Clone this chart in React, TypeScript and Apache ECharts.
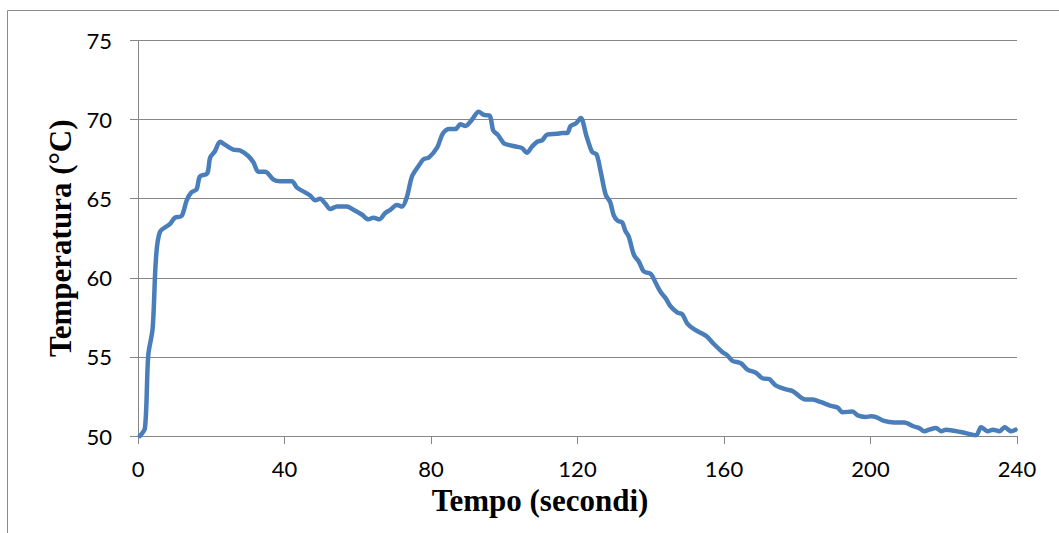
import React, { useEffect, useRef } from "react";
import * as echarts from "echarts";

const timeValues: number[] = [
  0.5, 1.9, 2.8, 4.0, 4.9, 6.0, 8.7, 10.1, 11.9, 13.3, 14.6, 16.0, 16.9, 18.9, 19.7, 21.0, 22.4, 23.8, 26.0, 27.9,
  30.1, 31.5, 32.9, 34.7, 37.0, 38.8, 42.0, 43.4, 45.6, 47.0, 48.4, 49.7, 51.1, 52.5, 54.3, 57.0, 58.8, 61.1, 62.9, 64.3,
  65.9, 67.5, 68.9, 70.7, 72.1, 73.4, 74.8, 76.4, 78.0, 79.4, 81.7, 83.2, 85.0, 86.7, 88.0, 89.4, 91.2, 93.0, 94.4, 96.0,
  97.0, 98.2, 99.9, 101.2, 103.1, 104.9, 106.1, 107.6, 109.0, 110.4, 111.7, 114.4, 115.8, 117.2, 118.1, 119.5, 120.9, 122.4, 124.0, 125.2,
  126.3, 127.7, 128.9, 129.9, 131.0, 132.2, 133.1, 134.0, 135.4, 136.8, 138.1, 140.0, 141.3, 142.7, 144.1, 145.4, 147.3, 148.6, 150.0, 151.8,
  154.6, 155.5, 157.3, 159.6, 160.9, 162.3, 164.6, 166.4, 168.7, 170.5, 172.3, 174.1, 176.9, 178.7, 182.3, 184.2, 186.4, 189.2, 191.0, 192.4,
  195.1, 196.5, 198.7, 200.1, 201.5, 203.7, 206.5, 209.2, 211.9, 213.3, 214.7, 216.0, 217.9, 219.3, 220.6, 224.7, 228.8, 230.2, 232.0, 233.4,
  235.2, 236.6, 238.4, 239.6,
];

const temperatureValues: number[] = [
  50.0, 50.5, 55.1, 56.8, 61.2, 62.9, 63.4, 63.8, 63.9, 64.9, 65.4, 65.6, 66.4, 66.6, 67.6, 68.0, 68.6, 68.4, 68.1, 68.05,
  67.7, 67.3, 66.7, 66.7, 66.2, 66.1, 66.1, 65.7, 65.4, 65.2, 64.9, 65.0, 64.7, 64.35, 64.5, 64.5, 64.3, 64.0, 63.7, 63.8,
  63.7, 64.1, 64.3, 64.6, 64.5, 65.1, 66.4, 67.0, 67.5, 67.6, 68.25, 69.1, 69.4, 69.4, 69.7, 69.6, 70.0, 70.5, 70.3, 70.25,
  69.3, 69.05, 68.5, 68.4, 68.3, 68.2, 67.9, 68.3, 68.6, 68.7, 69.05, 69.1, 69.15, 69.15, 69.6, 69.75, 70.1, 69.0, 67.95, 67.8,
  66.75, 65.25, 64.8, 63.95, 63.6, 63.5, 62.95, 62.6, 61.45, 61.0, 60.4, 60.25, 59.7, 59.1, 58.7, 58.2, 57.8, 57.7, 57.1, 56.75,
  56.4, 56.25, 55.8, 55.3, 55.1, 54.75, 54.6, 54.2, 54.0, 53.65, 53.6, 53.2, 52.95, 52.85, 52.3, 52.3, 52.15, 51.9, 51.8, 51.5,
  51.55, 51.3, 51.2, 51.25, 51.2, 50.95, 50.85, 50.85, 50.6, 50.5, 50.3, 50.4, 50.5, 50.3, 50.4, 50.25, 50.05, 50.55, 50.3, 50.4,
  50.3, 50.55, 50.3, 50.4,
];

const xAxisTitle = "Tempo (secondi)";
const yAxisTitle = "Temperatura (°C)";
const xTicks = { min: 0, max: 240, interval: 40 };
const yTicks = { min: 50, max: 75, interval: 5 };

export default function App() {
  const ref = useRef<HTMLDivElement>(null);

  useEffect(() => {
    if (!ref.current) return;
    const chart = echarts.init(ref.current, undefined, { renderer: "svg" });
    const gray = "#868686";
    const seriesData = timeValues.map((t, i) => [t, temperatureValues[i]]);
    chart.setOption({
      animation: false,
      backgroundColor: "#ffffff",
      graphic: [
        {
          type: "rect",
          shape: { x: 7.5, y: 10.5, width: 1200, height: 700 },
          style: { fill: "none", stroke: "#8c8c8c", lineWidth: 1 },
          silent: true,
        },
        {
          type: "text",
          x: 540,
          y: 500,
          style: {
            text: xAxisTitle,
            fontFamily: "Liberation Serif",
            fontWeight: "bold",
            fontSize: 31,
            fill: "#000",
            align: "center",
            verticalAlign: "middle",
          },
          silent: true,
        },
      ],
      grid: { left: 138, right: 42, top: 40.5, bottom: 97, containLabel: false },
      xAxis: {
        type: "value",
        min: xTicks.min,
        max: xTicks.max,
        interval: xTicks.interval,
        axisLine: { show: true, lineStyle: { color: gray, width: 1 } },
        axisTick: { show: true, length: 8, lineStyle: { color: gray, width: 1 } },
        axisLabel: {
          fontFamily: "Lato",
          fontSize: 22,
          color: "#000",
          margin: 21,
        },
        splitLine: { show: false },
      },
      yAxis: {
        type: "value",
        min: yTicks.min,
        max: yTicks.max,
        interval: yTicks.interval,
        name: yAxisTitle,
        nameLocation: "middle",
        nameRotate: 90,
        nameGap: 76,
        nameTextStyle: {
          fontFamily: "Liberation Serif",
          fontWeight: "bold",
          fontSize: 31,
          color: "#000",
          verticalAlign: "middle",
        },
        axisLine: { show: true, lineStyle: { color: gray, width: 1 } },
        axisTick: { show: true, length: 8, lineStyle: { color: gray, width: 1 } },
        axisLabel: {
          fontFamily: "Lato",
          fontSize: 22,
          color: "#000",
          margin: 26,
        },
        splitLine: { show: true, lineStyle: { color: gray, width: 1.2 } },
      },
      series: [
        {
          type: "line",
          data: seriesData,
          showSymbol: false,
          symbol: "none",
          smooth: 0.3,
          clip: false,
          lineStyle: { color: "#4a7ebb", width: 4.5, cap: "round", join: "round" },
        },
      ],
    });
    return () => chart.dispose();
  }, []);

  return (
    <div
      ref={ref}
      style={{ position: "fixed", left: 0, top: 0, width: 1059, height: 533 }}
    />
  );
}
